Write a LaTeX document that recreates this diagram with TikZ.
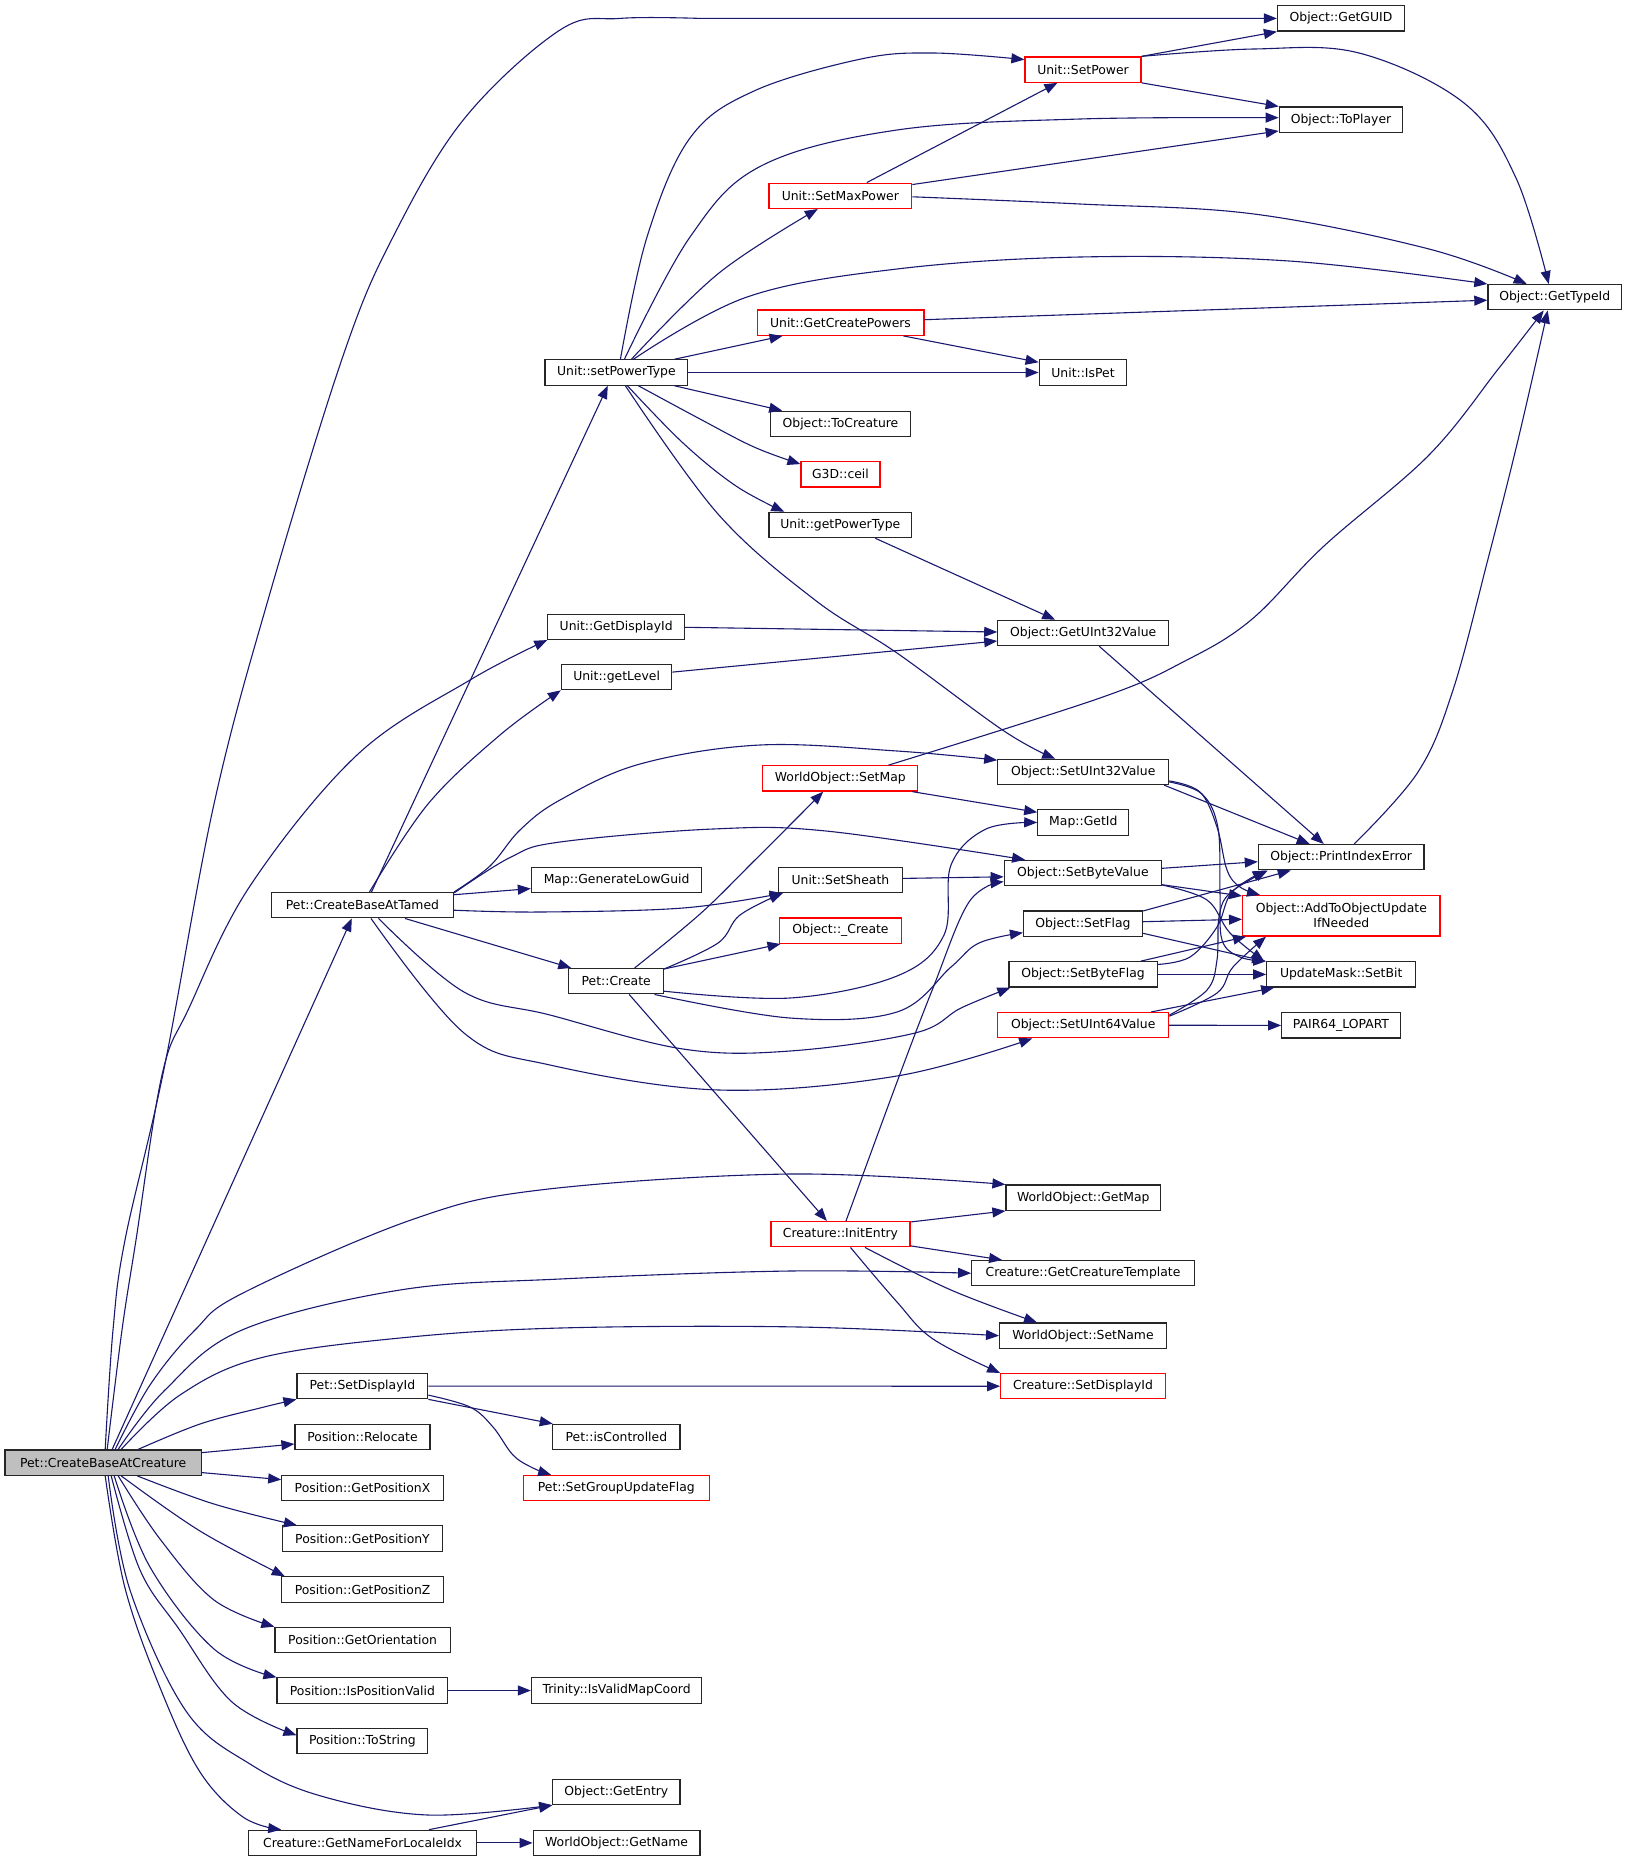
\documentclass[tikz,border=0pt]{standalone}
\usepackage{fontspec}
\setmainfont{DejaVu Sans}
\usetikzlibrary{arrows.meta,calc}
\definecolor{edgeblue}{HTML}{191970}
\definecolor{boxred}{HTML}{FF0000}
\definecolor{rootgray}{HTML}{BFBFBF}
\tikzset{
  fn/.style={draw=black!85, line width=1.2pt, rectangle, minimum height=25.3pt, inner sep=0pt, font=\fontsize{12.4}{15}\selectfont},
  fnr/.style={fn, draw=boxred},
  call/.style={draw=edgeblue, line width=1.1pt, -{Triangle[length=13pt,width=10pt]}},
  sm/.style={smooth, tension=0.6},
}
\begin{document}
\begin{tikzpicture}[x=1pt,y=-1pt]
\fill[white] (0,0) rectangle (1627,1861);
\useasboundingbox (0,0) rectangle (1627,1861);
% nodes
\node[fn, fill=rootgray, minimum width=196.4pt] (cbc) at (103.2,1462.6) {Pet::CreateBaseAtCreature};
\node[fn, minimum width=182pt] (cbt) at (362.5,905.2) {Pet::CreateBaseAtTamed};
\node[fn, minimum width=142.8pt] (spt) at (616.4,372.5) {Unit::setPowerType};
\node[fn, minimum width=136.7pt] (gdi) at (616.2,626.8) {Unit::GetDisplayId};
\node[fn, minimum width=110.4pt] (glv) at (616.6,677.1) {Unit::getLevel};
\node[fn, minimum width=170.4pt] (mglg) at (616.6,879.9) {Map::GenerateLowGuid};
\node[fn, minimum width=94.7pt] (pcr) at (616.2,981.2) {Pet::Create};
\node[fn, minimum width=130.7pt] (psd) at (362.4,1386.1) {Pet::SetDisplayId};
\node[fn, minimum width=135pt] (prl) at (362.5,1437) {Position::Relocate};
\node[fn, minimum width=161.4pt] (pgx) at (362.5,1488.1) {Position::GetPositionX};
\node[fn, minimum width=160pt] (pgy) at (362.5,1538.5) {Position::GetPositionY};
\node[fn, minimum width=162.5pt] (pgz) at (362.6,1589.5) {Position::GetPositionZ};
\node[fn, minimum width=175.3pt] (pgo) at (362.6,1639.9) {Position::GetOrientation};
\node[fn, minimum width=170.7pt] (piv) at (362.4,1690.5) {Position::IsPositionValid};
\node[fn, minimum width=130.7pt] (pts) at (362.4,1741.2) {Position::ToString};
\node[fn, minimum width=227.5pt] (cgn) at (362.6,1842.9) {Creature::GetNameForLocaleIdx};
\node[fnr, minimum width=116pt] (spw) at (1083,69.6) {Unit::SetPower};
\node[fnr, minimum width=142.8pt] (smp) at (840.3,195.8) {Unit::SetMaxPower};
\node[fnr, minimum width=166.8pt] (gcp) at (840.5,322.7) {Unit::GetCreatePowers};
\node[fn, minimum width=140.4pt] (tcr) at (840.5,423.9) {Object::ToCreature};
\node[fnr, minimum width=79pt] (ceil) at (840.5,474.3) {G3D::ceil};
\node[fn, minimum width=142.8pt] (gpt) at (840.3,525) {Unit::getPowerType};
\node[fnr, minimum width=155pt] (ssm) at (840.3,778.4) {WorldObject::SetMap};
\node[fn, minimum width=124.3pt] (ssh) at (840.4,879.9) {Unit::SetSheath};
\node[fnr, minimum width=121.8pt] (ocr) at (840.5,930.7) {Object::\_Create};
\node[fnr, minimum width=139pt] (ie) at (840.5,1234.2) {Creature::InitEntry};
\node[fn, minimum width=127pt] (guid) at (1341,18.4) {Object::GetGUID};
\node[fn, minimum width=123.5pt] (tpl) at (1341,119.7) {Object::ToPlayer};
\node[fn, minimum width=133.6pt] (tid) at (1554.7,297.2) {Object::GetTypeId};
\node[fn, minimum width=87.6pt] (isp) at (1083,372.5) {Unit::IsPet};
\node[fn, minimum width=170.8pt] (gu32) at (1083.2,633) {Object::GetUInt32Value};
\node[fn, minimum width=170.8pt] (su32) at (1083.2,771.9) {Object::SetUInt32Value};
\node[fn, minimum width=91pt] (mgi) at (1083.3,822.5) {Map::GetId};
\node[fn, minimum width=157.4pt] (sbv) at (1082.9,873) {Object::SetByteValue};
\node[fn, minimum width=119pt] (sfl) at (1083,923.7) {Object::SetFlag};
\node[fn, minimum width=148.2pt] (sbf) at (1083,974.4) {Object::SetByteFlag};
\node[fnr, minimum width=170.8pt] (su64) at (1083.2,1025.2) {Object::SetUInt64Value};
\node[fn, minimum width=154.6pt] (wgm) at (1083.3,1197.7) {WorldObject::GetMap};
\node[fn, minimum width=222.6pt] (gct) at (1083,1273.2) {Creature::GetCreatureTemplate};
\node[fn, minimum width=166.8pt] (wsn) at (1083,1335.7) {WorldObject::SetName};
\node[fnr, minimum width=164.6pt] (csd) at (1083,1386.2) {Creature::SetDisplayId};
\node[fn, minimum width=165.7pt] (pie) at (1341.2,857.2) {Object::PrintIndexError};
\node[fnr, minimum width=197.4pt, minimum height=40.5pt, align=center] (aou) at (1341.3,915.8) {Object::AddToObjectUpdate\\IfNeeded};
\node[fn, minimum width=148.9pt] (smb) at (1341.2,974.4) {UpdateMask::SetBit};
\node[fn, minimum width=118.6pt] (p64) at (1341,1025.4) {PAIR64\_LOPART};
\node[fn, minimum width=127.2pt] (pic) at (616.4,1437) {Pet::isControlled};
\node[fnr, minimum width=186.1pt] (sgu) at (616.3,1488.1) {Pet::SetGroupUpdateFlag};
\node[fn, minimum width=170.4pt] (ivm) at (616.6,1690.5) {Trinity::IsValidMapCoord};
\node[fn, minimum width=127.2pt] (gen) at (616.4,1791.9) {Object::GetEntry};
\node[fn, minimum width=166.8pt] (gnm) at (616.6,1842.9) {WorldObject::GetName};
% edges from Pet::CreateBaseAtCreature
\draw[call] plot[sm] coordinates {($(cbc.north)+(2,0)$) (113,1330) (125,1240) (164,1069) (214,804) (268,600) (343,356) (393,237) (464,119) (560,30) (620,18.4) (700,18.4)} -- (guid.west);
\draw[call] plot[sm] coordinates {($(cbc.north)+(4,0)$) (122,1330) (136,1240) (162,1075) (189,1008) (250,886) (357,755) (470,680) (gdi.south west)};
\draw[call] ($(cbc.north)+(9,0)$) -- ($(cbt.south)+(-10.7,0)$);
\draw[call] plot[sm] coordinates {($(cbc.north)+(12,0)$) (150,1385) (195,1330) (243,1293) (411,1220) (540,1190) (790,1174) (wgm.north west)};
\draw[call] plot[sm] coordinates {($(cbc.north)+(15,0)$) (165,1390) (242,1330) (400,1290) (560,1279) (790,1271) (gct.west)};
\draw[call] plot[sm] coordinates {($(cbc.north)+(18,0)$) (180,1395) (260,1358) (400,1338) (560,1328) (800,1327) (wsn.west)};
\draw[call] plot[sm] coordinates {($(cbc.north)+(35,0)$) (200,1424) (260,1408) (psd.south west)};
\draw[call] ($(cbc.east)+(0,-10)$) -- ($(prl.west)+(0,7)$);
\draw[call] ($(cbc.east)+(0,10)$) -- ($(pgx.west)+(0,-8.5)$);
\draw[call] plot[sm] coordinates {($(cbc.south)+(34,0)$) (214,1504) ($(pgy.north west)+(15,0)$)};
\draw[call] plot[sm] coordinates {($(cbc.south)+(18,0)$) (200,1531) ($(pgz.north west)+(4,0)$)};
\draw[call] plot[sm] coordinates {($(cbc.south)+(15,0)$) (160,1539) (214,1600) (pgo.north west)};
\draw[call] plot[sm] coordinates {($(cbc.south)+(11,0)$) (150,1567) (214,1649) (piv.north west)};
\draw[call] plot[sm] coordinates {($(cbc.south)+(8,0)$) (140,1570) (179,1629) (232,1702) ($(pts.west)+(0,-6)$)};
\draw[call] plot[sm] coordinates {($(cbc.south)+(5,0)$) (130,1590) (186,1711) (250,1764) (321,1796) (428,1815) (gen.south west)};
\draw[call] plot[sm] coordinates {($(cbc.south)+(2,0)$) (125,1588) (161,1690) (200,1772) (243,1817) ($(cgn.north west)+(33,0)$)};
% edges from Pet::CreateBaseAtTamed
\draw[call] ($(cbt.north)+(9,0)$) -- ($(spt.south)+(-8.6,0)$);
\draw[call] plot[sm] coordinates {($(cbt.north)+(7,0)$) (428,804) (500,735) (glv.south west)};
\draw[call] plot[sm] coordinates {(cbt.north east) (490,866) (520,830) (560,800) (640,764) (760,745) (897,751) ($(su32.north west)+(0,1.5)$)};
\draw[call] plot[sm] coordinates {($(cbt.north east)+(0,1)$) (511,857) (560,842) (713,829) (826,831) ($(sbv.north west)+(21.5,0)$)};
\draw[call] ($(cbt.east)+(0,-10.5)$) -- ($(mglg.west)+(0,8.7)$);
\draw[call] plot[sm] coordinates {($(cbt.east)+(0,5)$) (540,912) (683,908) ($(ssh.south west)+(5,0)$)};
\draw[call] ($(cbt.south)+(42.5,0)$) -- ($(pcr.north west)+(3,0)$);
\draw[call] plot[sm] coordinates {($(cbt.south)+(16,0)$) (464,992) (550,1015) (683,1049) (790,1051) (915,1033) (961,1008) ($(sbf.south west)+(2,0)$)};
\draw[call] plot[sm] coordinates {($(cbt.south)+(8.5,0)$) (464,1033) (550,1065) (719,1090) (897,1076) ($(su64.south west)+(35,0)$)};
% edges from Unit::setPowerType
\draw[call] plot[sm] coordinates {($(spt.north)+(4,0)$) (647,237) (690,138) (754,91) (861,59) (933,53) ($(spw.west)+(0,-10)$)};
\draw[call] plot[sm] coordinates {($(spt.north)+(8,0)$) (690,237) (761,166) (897,130) (1080,119) ($(tpl.west)+(0,-2)$)};
\draw[call] plot[sm] coordinates {($(spt.north)+(15,0)$) (719,273) ($(smp.south west)+(49.5,0)$)};
\draw[call] plot[sm] coordinates {($(spt.north)+(17,0)$) (747,297) (897,269) (1080,257) (1289,261) (tid.north west)};
\draw[call] ($(spt.north east)+(-14,0)$) -- ($(gcp.south west)+(26,0)$);
\draw[call] (spt.east) -- (isp.west);
\draw[call] ($(spt.south east)+(-14,0)$) -- ($(tcr.north west)+(12.5,0)$);
\draw[call] plot[sm] coordinates {($(spt.south)+(22,0)$) (700,419) (754,447) ($(ceil.north west)+(0,3)$)};
\draw[call] plot[sm] coordinates {($(spt.south)+(11,0)$) (683,443) (736,486) ($(gpt.north west)+(16,0)$)};
\draw[call] plot[sm] coordinates {($(spt.south)+(9,0)$) (718,514) (815,600) (897,653) (1004,731) ($(su32.north west)+(58,0)$)};
% Unit::SetPower, SetMaxPower, GetCreatePowers
\draw[call] (spw.north east) -- (guid.south west);
\draw[call] (spw.south east) -- (tpl.north west);
\draw[call] plot[sm] coordinates {(spw.north east) (1254,49) (1359,53) (1464,103) (1516,178) ($(tid.north)+(-6,0)$)};
\draw[call] ($(smp.north)+(26.5,0)$) -- ($(spw.south west)+(33,0)$);
\draw[call] ($(smp.north east)+(0,2)$) -- ($(tpl.south west)+(0,-2)$);
\draw[call] plot[sm] coordinates {($(smp.east)+(0,1)$) (1080,204) (1254,214) (1429,249) ($(tid.north)+(-28,0)$)};
\draw[call] ($(gcp.east)+(0,-3)$) -- ($(tid.west)+(0,3)$);
\draw[call] ($(gcp.south east)+(-21,0)$) -- ($(isp.north west)+(0,3)$);
% getters
\draw[call] ($(gpt.south)+(35,0)$) -- ($(gu32.north west)+(58,0)$);
\draw[call] ($(gdi.east)+(0,0.5)$) -- ($(gu32.west)+(0,-1)$);
\draw[call] ($(glv.east)+(0,-5)$) -- ($(gu32.west)+(0,8)$);
\draw[call] ($(gu32.south)+(16,0)$) -- ($(pie.north west)+(66,0)$);
\draw[call] plot[sm] coordinates {($(ssm.north east)+(-30,0)$) (1100,698) (1185,661) (1251,620) (1324,546) (1429,455) (1499,368) ($(tid.south)+(-11,0)$)};
\draw[call] ($(ssm.south east)+(-6,0)$) -- ($(mgi.north west)+(0,3)$);
\draw[call] plot[sm] coordinates {($(pie.north)+(13,0)$) (1418,772) (1453,690) (1488,559) (1518,440) ($(tid.south)+(-7,0)$)};
% setters
\draw[call] ($(su32.south east)+(-5,0)$) -- ($(pie.north west)+(52,0)$);
\draw[call] plot[sm] coordinates {($(su32.east)+(0,9)$) (1200,792) (1217,827) (1227,870) (1240,887) ($(aou.north west)+(18,0)$)};
\draw[call] plot[sm] coordinates {($(su32.east)+(0,10)$) (1202,794) (1218,828) (1220,893) (1222,940) (1240,957) (smb.north west)};
\draw[call] ($(sbv.east)+(0,-4.7)$) -- ($(pie.west)+(0,4.5)$);
\draw[call] ($(sbv.east)+(0,11.7)$) -- ($(aou.north west)+(0,1)$);
\draw[call] plot[sm] coordinates {($(sbv.east)+(0,12)$) (1207,900) (1230,933) ($(smb.north west)+(-2,0)$)};
\draw[call] ($(sfl.north east)+(0,0.5)$) -- ($(pie.south west)+(33,0)$);
\draw[call] ($(sfl.east)+(0,-2)$) -- ($(aou.west)+(0,3.5)$);
\draw[call] ($(sfl.east)+(0,9.6)$) -- ($(smb.north west)+(-1,0)$);
\draw[call] plot[sm] coordinates {($(sbf.north east)+(0,3.3)$) (1190,957) (1217,927) (1232,892) ($(pie.south west)+(8,0)$)};
\draw[call] ($(sbf.north east)+(-17,0)$) -- ($(aou.south west)+(4,0)$);
\draw[call] (sbf.east) -- (smb.west);
\draw[call] plot[sm] coordinates {($(su64.east)+(0,-10)$) (1207,990) (1217,960) (1219,917) (1230,893) ($(pie.south west)+(10,0)$)};
\draw[call] plot[sm] coordinates {($(su64.east)+(0,-9)$) (1217,993) (1233,967) ($(aou.south west)+(24,0)$)};
\draw[call] ($(su64.north east)+(-18,0)$) -- ($(smb.south west)+(8,0)$);
\draw[call] (su64.east) -- (p64.west);
\draw[call] ($(ssh.east)+(0,-1.5)$) -- ($(sbv.west)+(0,3.8)$);
% Pet::Create
\draw[call] plot[sm] coordinates {($(pcr.north)+(18.4,0)$) (700,914) (754,861) ($(ssm.south west)+(61,0)$)};
\draw[call] plot[sm] coordinates {($(pcr.north east)+(0,1)$) (718,943) (740,915) ($(ssh.south west)+(5,0)$)};
\draw[call] ($(pcr.north east)+(0,1)$) -- ($(ocr.south west)+(1.5,0)$);
\draw[call] plot[sm] coordinates {($(pcr.east)+(0,10)$) (790,998) (897,976) (944,935) (951,865) (986,829) (mgi.west)};
\draw[call] plot[sm] coordinates {($(pcr.south east)+(-9.6,0)$) (790,1018) (897,1012) (951,967) (979,943) ($(sfl.west)+(0,9)$)};
\draw[call] ($(pcr.south)+(13,0)$) -- ($(ie.north west)+(56.5,0)$);
% Creature::InitEntry
\draw[call] plot[sm] coordinates {($(ie.north)+(5.5,0)$) (897,1082) (933,988) (969,902) ($(sbv.west)+(0,8.7)$)};
\draw[call] ($(ie.north east)+(0,1)$) -- (wgm.south west);
\draw[call] ($(ie.south east)+(0,-1.6)$) -- ($(gct.north west)+(31,0)$);
\draw[call] plot[sm] coordinates {($(ie.south)+(24.5,0)$) (951,1290) ($(wsn.north west)+(38,0)$)};
\draw[call] plot[sm] coordinates {($(ie.south)+(10,0)$) (897,1302) (933,1339) (csd.north west)};
% Pet::SetDisplayId and others
\draw[call] (psd.east) -- (csd.west);
\draw[call] (psd.south east) -- ($(pic.north west)+(0.5,0)$);
\draw[call] plot[sm] coordinates {($(psd.east)+(0,9)$) (470,1407) (493,1427) (513,1455) (533,1468) ($(sgu.north west)+(28.5,0)$)};
\draw[call] (piv.east) -- (ivm.west);
\draw[call] ($(cgn.north east)+(-48,0)$) -- (gen.south west);
\draw[call] (cgn.east) -- (gnm.west);
\end{tikzpicture}
\end{document}
